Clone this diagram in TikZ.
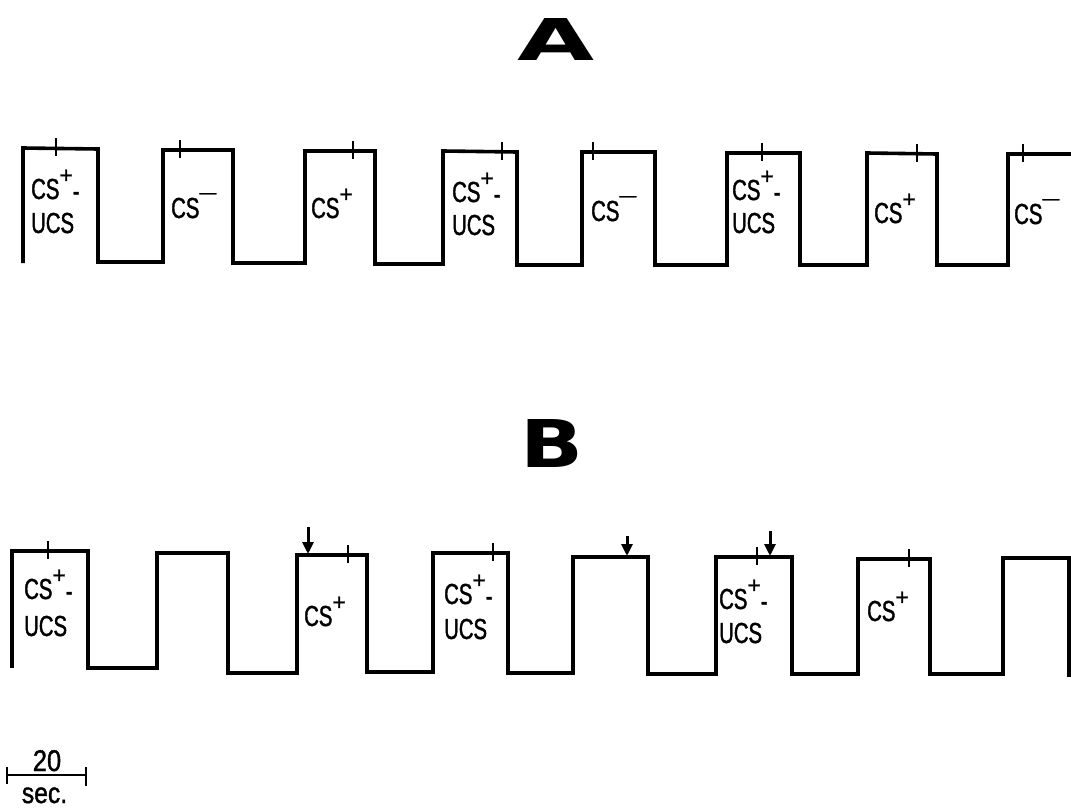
\documentclass[tikz,border=0pt]{standalone}
\usepackage{fontspec}
\setmainfont{Liberation Sans}
\newfontfamily\lblfont[FakeStretch=0.7,FakeBold=1.3]{Liberation Sans}
\newfontfamily\supfont[FakeBold=1.3]{Liberation Sans}
\newfontfamily\titlefont{DejaVu Sans}
\newfontfamily\barfont[FakeBold=1.3,FakeStretch=0.85]{Liberation Sans}
\usetikzlibrary{arrows.meta}
\newcommand{\myplus}{\raisebox{16pt}{\supfont\fontsize{23}{23}\selectfont +}}
\newcommand{\myminus}{\raisebox{20pt}{\supfont\fontsize{17}{17}\selectfont \textemdash}}
\newcommand{\myhyph}{\raisebox{-2pt}{-}}
\tikzset{
  trace/.style={line width=3.6pt, line join=miter},
  tickmark/.style={line width=2.8pt},
  lbl/.style={anchor=base west, inner sep=0pt, font=\lblfont\fontsize{29}{32}\selectfont},
  arr/.style={line width=3pt, -{Triangle[length=12pt,width=11pt]}},
  title/.style={inner sep=0pt}
}
\begin{document}
\begin{tikzpicture}[x=1pt,y=-1pt]
\useasboundingbox (0,0) rectangle (1071,808);
% titles
\node[title] (titleA) at (556.5,39) {\resizebox{77pt}{42pt}{\titlefont\bfseries A}};
\node[title] (titleB) at (551.5,443) {\resizebox{63pt}{48pt}{\titlefont\bfseries B}};
% waveform A
\draw[trace] (23,263) -- (23,148) -- (98,149) -- (98,262) -- (163,262) -- (163,150) -- (233,150) -- (233,263) -- (305,263) -- (305,151) -- (375,151) -- (375,264) -- (443,264) -- (443,151) -- (517,152) -- (517,265) -- (582,265) -- (582,152) -- (655,152) -- (655,265) -- (727,265) -- (727,153) -- (800,153) -- (800,265) -- (867,265) -- (867,153) -- (937,154) -- (937,265) -- (1008,265) -- (1008,154) -- (1071,154);
\foreach \x/\y in {56/148,180/150,353/151,502/152,593/152,762/153,917/154,1023/154}
  \draw[tickmark] (\x,\y-10) -- (\x,\y+8);
\node[lbl] (a1t) at (31,199) {CS\myplus\myhyph};
\node[lbl] (a1b) at (31,233) {UCS};
\node[lbl] (a2) at (171,218) {CS\myminus};
\node[lbl] (a3) at (311,218) {CS\myplus};
\node[lbl] (a4t) at (452,202) {CS\myplus\myhyph};
\node[lbl] (a4b) at (452,235) {UCS};
\node[lbl] (a5) at (591,221) {CS\myminus};
\node[lbl] (a6t) at (732,200) {CS\myplus\myhyph};
\node[lbl] (a6b) at (732,233) {UCS};
\node[lbl] (a7) at (874,223) {CS\myplus};
\node[lbl] (a8) at (1014,224) {CS\myminus};
% waveform B
\draw[trace] (12,668) -- (12,551) -- (88,551) -- (88,668) -- (157,668) -- (157,553) -- (228,553) -- (228,673) -- (297,673) -- (297,555) -- (367,555) -- (367,672) -- (433,672) -- (433,553) -- (508,553) -- (508,673) -- (573,673) -- (573,557) -- (648,557) -- (648,674) -- (716,674) -- (716,557) -- (792,557) -- (792,674) -- (858,674) -- (858,559) -- (930,559) -- (930,674) -- (1003,674) -- (1003,558) -- (1069,558) -- (1069,677);
\foreach \x/\y in {48/551,348/555,493/553,757/557,909/559}
  \draw[tickmark] (\x,\y-10) -- (\x,\y+8);
\coordinate (ar1s) at (308,527); \coordinate (ar1e) at (308,554);
\coordinate (ar2s) at (627,536); \coordinate (ar2e) at (627,556);
\coordinate (ar3s) at (770,531); \coordinate (ar3e) at (770,556);
\draw[arr] (ar1s) -- (ar1e);
\draw[arr] (ar2s) -- (ar2e);
\draw[arr] (ar3s) -- (ar3e);
\node[lbl] (b1t) at (24,599) {CS\myplus\myhyph};
\node[lbl] (b1b) at (24,636) {UCS};
\node[lbl] (b3) at (304,626) {CS\myplus};
\node[lbl] (b4t) at (444,604) {CS\myplus\myhyph};
\node[lbl] (b4b) at (444,639) {UCS};
\node[lbl] (b6t) at (719,609) {CS\myplus\myhyph};
\node[lbl] (b6b) at (719,643) {UCS};
\node[lbl] (b7) at (867,621) {CS\myplus};
% scale bar
\draw[line width=2.8pt] (7,775) -- (86,775);
\draw[line width=2.8pt] (7,767) -- (7,784);
\draw[line width=2.8pt] (86,767) -- (86,786);
\node[anchor=base, inner sep=0pt, font=\barfont\fontsize{30}{30}\selectfont] (twenty) at (47,771) {20};
\node[anchor=base, inner sep=0pt, font=\barfont\fontsize{29}{30}\selectfont] (sec) at (44.5,803) {sec.};
\end{tikzpicture}
\end{document}
